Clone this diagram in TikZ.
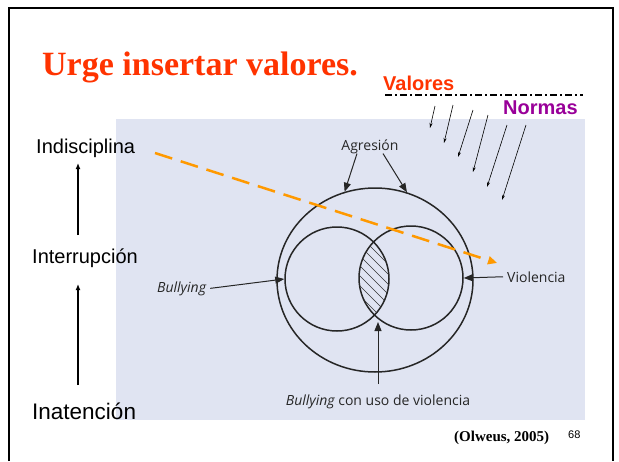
\documentclass[tikz,border=0pt]{standalone}
\usepackage{fontspec}
\setmainfont{Liberation Sans}
\newfontfamily\titlefont{Liberation Serif}
\newfontfamily\scanfont{Open Sans}
\usepackage{xcolor}
\usetikzlibrary{arrows.meta,calc,shapes.geometric}

\definecolor{titlered}{RGB}{255,51,0}
\definecolor{normpurple}{RGB}{153,0,153}
\definecolor{trendorange}{RGB}{255,153,0}
\definecolor{scanblue}{RGB}{224,228,242}

\tikzset{
  scanlabel/.style={font=\scanfont\fontsize{14}{17}\selectfont, text=black!85, inner sep=0pt},
  scanarrow/.style={-{Triangle[length=9pt,width=7pt]}, line width=1pt, draw=black!85},
  ringline/.style={draw=black!85, line width=1.5pt, inner sep=0pt},
  stagelabel/.style={font=\fontsize{20}{24}\selectfont, inner sep=0pt, anchor=base west},
  normarrow/.style={-{Stealth[length=5pt,width=3pt]}, line width=0.6pt},
  stagearrow/.style={-{Latex[length=6pt,width=5pt]}, line width=1.6pt},
}

\begin{document}
\begin{tikzpicture}[x=1pt, y=-1pt, >=Stealth]
  \useasboundingbox (0,0) rectangle (619,461);

  % ----------------------
  % Cornice e sfondo della figura scansionata
  % ----------------------
  \draw[line width=2pt] (9,461) -- (9,7.5) -- (613,7.5) -- (613,461);
  \fill[scanblue] (116,119) rectangle (585,420);

  % ----------------------
  % Titolo e riferimenti
  % ----------------------
  \node[font=\titlefont\bfseries\fontsize{34}{40}\selectfont, text=titlered, anchor=base west, inner sep=0pt] (title) at (42,75) {Urge insertar valores.};
  \node[font=\titlefont\bfseries\fontsize{15}{17}\selectfont, anchor=base west, inner sep=0pt] (cite) at (454,441) {(Olweus, 2005)};
  \node[font=\fontsize{11}{13}\selectfont, anchor=base west, inner sep=0pt] (pagenum) at (568,438) {68};

  % ----------------------
  % Valores / Normas (linea tratto-punto e frecce sottili)
  % ----------------------
  \node[font=\bfseries\fontsize{20}{24}\selectfont, text=titlered, anchor=base west, inner sep=0pt] (valores) at (383,90) {Valores};
  \node[font=\bfseries\fontsize{20}{24}\selectfont, text=normpurple, anchor=base west, inner sep=0pt] (normas) at (503,114) {Normas};
  \coordinate (vleft) at (385,95);
  \coordinate (vright) at (583,95);
  \draw[line width=1.4pt, dash pattern=on 7pt off 3pt on 2pt off 3pt] (vleft) -- (vright);

  \foreach \sx/\sy/\ex/\ey [count=\i] in {435/106/430/128, 453/105/444/143, 473/110/458/157,
                                          488/115/473/172, 507/125/487/187, 526/125/502/200}{
    \coordinate (ns\i) at (\sx,\sy);
    \coordinate (ne\i) at (\ex,\ey);
    \draw[normarrow] (ns\i) -- (ne\i);
  }

  % ----------------------
  % Scala a sinistra
  % ----------------------
  \node[stagelabel] (indis) at (36,153) {Indisciplina};
  \node[stagelabel] (interr) at (32,263) {Interrupción};
  \node[stagelabel, font=\fontsize{22.5}{27}\selectfont] (inat) at (32,419) {Inatención};
  \coordinate (s1bot) at (78,385);
  \coordinate (s1top) at (78,284);
  \coordinate (s2bot) at (78,235);
  \coordinate (s2top) at (78,163);
  \draw[stagearrow] (s1bot) -- (s1top);
  \draw[stagearrow] (s2bot) -- (s2top);

  % ----------------------
  % Cerchi (aggressione, bullying, violenza)
  % ----------------------
  \node[ellipse, ringline, minimum width=196pt, minimum height=184pt] (outer) at (375,280) {};
  \node[circle, ringline, minimum size=104pt] (bully) at (337,279) {};
  \node[circle, ringline, minimum size=104pt] (viol) at (411,278) {};

  % intersezione tratteggiata
  \begin{scope}
    \clip (bully.center) circle (52pt);
    \clip (viol.center) circle (52pt);
    \foreach \k in {-70,-60,...,70}
      \draw[line width=0.7pt, black!80] (374+\k-70,210) -- (374+\k+70,350);
  \end{scope}

  % ----------------------
  % Etichette della figura e frecce
  % ----------------------
  \node[scanlabel, anchor=base] (agres) at (370,150) {Agresión};
  \node[scanlabel, anchor=base west] (bullab) at (157,292) {\itshape Bullying};
  \node[scanlabel, anchor=base west] (violab) at (507,282) {Violencia};
  \node[scanlabel, anchor=base] (mixlab) at (378,405) {\itshape Bullying\upshape{} con uso de violencia};
  \coordinate (lensbot) at (378,322);

  \draw[scanarrow] ([xshift=-13pt]agres.south) -- (outer.109);
  \draw[scanarrow] ([xshift=13pt]agres.south) -- (outer.70);
  \draw[scanarrow] ([xshift=4pt]bullab.east) -- (bully.west);
  \draw[scanarrow] ([xshift=-4pt]violab.west) -- (viol.east);
  \draw[scanarrow] ([yshift=10pt]mixlab.north) -- (lensbot);

  % ----------------------
  % Freccia arancione tratteggiata
  % ----------------------
  \coordinate (trendstart) at (155,153);
  \coordinate (trendend) at (497,263);
  \draw[trendorange, line width=2.5pt, dash pattern=on 18pt off 9pt, -{Triangle[length=9pt,width=8pt]}] (trendstart) -- (trendend);

\end{tikzpicture}
\end{document}
